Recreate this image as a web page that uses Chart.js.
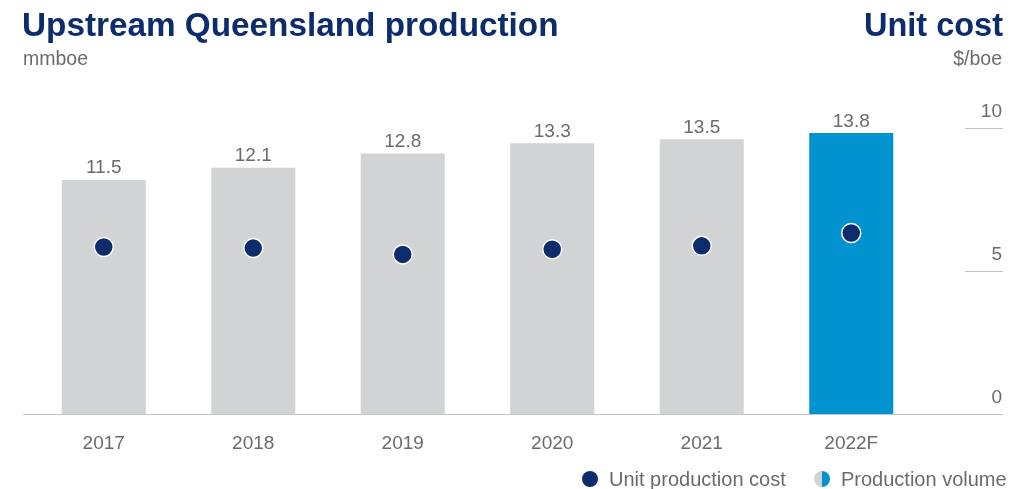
<!DOCTYPE html>
<html>
<head>
<meta charset="utf-8">
<script src="https://cdn.jsdelivr.net/npm/chart.js@4/dist/chart.umd.min.js"></script>
<style>
  html, body { margin: 0; padding: 0; background: #fff; }
  #wrap { position: relative; width: 1029px; height: 489px; overflow: hidden; font-family: "Liberation Sans", Arial, sans-serif; }
  canvas { position: absolute; left: 0; top: 0; }
  .t { position: absolute; white-space: nowrap; }
  .title { font-weight: bold; color: #0c2c6c; }
  .unit { font-size: 19.5px; line-height: 19.5px; color: #6b6b6b; top: 48.5px; }
  .leg { font-size: 20px; line-height: 20px; color: #6b6b6b; top: 469px; }
  .dot { position: absolute; width: 16px; height: 16px; border-radius: 50%; top: 471px; }
</style>
</head>
<body>
<div id="wrap">
  <canvas id="c" width="1029" height="489"></canvas>
  <div class="t title" style="left:22px; font-size:33.3px; line-height:33.3px; top:7.8px;">Upstream Queensland production</div>
  <div class="t title" style="right:26px; font-size:32.5px; line-height:32.5px; top:8.5px;">Unit cost</div>
  <div class="t unit" style="left:23px;">mmboe</div>
  <div class="t unit" style="right:27px;">$/boe</div>
  <div class="dot" style="left:582px; background:#0c2c6c;"></div>
  <div class="t leg" style="left:609px;">Unit production cost</div>
  <div class="dot" style="left:814px; background:linear-gradient(to right,#d1d3d4 50%,#0093d0 50%);"></div>
  <div class="t leg" style="left:841px;">Production volume</div>
</div>
<script>
const categories = ['2017', '2018', '2019', '2020', '2021', '2022F'];
const productionVolume = [11.5, 12.1, 12.8, 13.3, 13.5, 13.8];
const unitCost = [5.84, 5.80, 5.58, 5.76, 5.88, 6.33];
const costTicks = [0, 5, 10];

const NAVY = '#0c2c6c';
const GRAY_BAR = '#d1d3d4';
const BLUE_BAR = '#0093d0';
const TEXT = '#6b6b6b';
const LINE = '#c4c4c4';
const FONT = '"Liberation Sans", Arial, sans-serif';

const barColors = categories.map(c => c.endsWith('F') ? BLUE_BAR : GRAY_BAR);

const decorPlugin = {
  id: 'decor',
  beforeDatasetsDraw(chart) {
    const ctx = chart.ctx;
    const yc = chart.scales.yCost;
    const right = chart.width - 26;
    ctx.save();
    ctx.strokeStyle = LINE;
    ctx.lineWidth = 1;
    costTicks.forEach(v => {
      const y = Math.round(yc.getPixelForValue(v)) + 0.5;
      ctx.beginPath();
      ctx.moveTo(v === 0 ? 23 : right - 38, y);
      ctx.lineTo(right, y);
      ctx.stroke();
    });
    ctx.restore();
  },
  afterDatasetsDraw(chart) {
    const ctx = chart.ctx;
    const yc = chart.scales.yCost;
    const right = chart.width - 27;
    ctx.save();
    ctx.fillStyle = TEXT;
    ctx.font = '19px ' + FONT;
    ctx.textBaseline = 'alphabetic';
    ctx.textAlign = 'right';
    costTicks.forEach(v => {
      ctx.fillText(String(v), right, yc.getPixelForValue(v) - 11);
    });
    ctx.textAlign = 'center';
    const meta = chart.getDatasetMeta(1);
    meta.data.forEach((bar, i) => {
      ctx.fillText(productionVolume[i].toFixed(1), bar.x, bar.y - 6.5);
    });
    ctx.restore();
  }
};

new Chart(document.getElementById('c'), {
  data: {
    labels: categories,
    datasets: [
      {
        type: 'line',
        label: 'Unit production cost',
        data: unitCost,
        yAxisID: 'yCost',
        showLine: false,
        pointRadius: 9.5,
        pointBackgroundColor: NAVY,
        pointBorderColor: '#ffffff',
        pointBorderWidth: 1.5,
        order: 0
      },
      {
        type: 'bar',
        label: 'Production volume',
        data: productionVolume,
        yAxisID: 'yVol',
        backgroundColor: barColors,
        borderWidth: 0,
        barPercentage: 0.562,
        categoryPercentage: 1.0,
        order: 1
      }
    ]
  },
  options: {
    responsive: false,
    animation: false,
    layout: { padding: { left: 29, top: 128, right: 0, bottom: 35 } },
    plugins: { legend: { display: false }, tooltip: { enabled: false }, title: { display: false } },
    scales: {
      x: {
        offset: true,
        grid: { display: false },
        border: { display: false },
        ticks: { color: TEXT, font: { family: FONT, size: 19 }, padding: 10, maxRotation: 0 },
        afterFit(s) { s.height = 40; }
      },
      yVol: {
        position: 'left',
        display: false,
        min: 0,
        max: 14.05
      },
      yCost: {
        position: 'right',
        min: 0,
        max: 10,
        grid: { display: false },
        border: { display: false },
        ticks: { display: false, stepSize: 5 },
        afterFit(s) { s.width = 103; }
      }
    }
  },
  plugins: [decorPlugin]
});
</script>
</body>
</html>
